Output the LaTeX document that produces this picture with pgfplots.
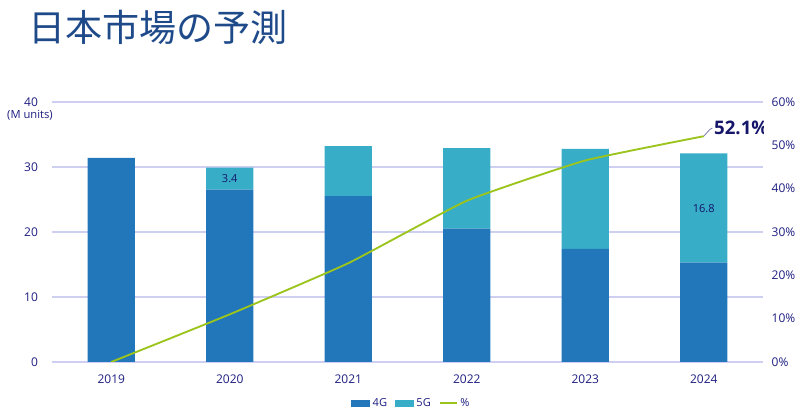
\documentclass[border=0pt]{standalone}
\usepackage{pgfplots}
\pgfplotsset{compat=1.18}
\usepackage{fontspec}
\setmainfont{Open Sans}
\newfontfamily\cjk{Noto Sans CJK JP}
\definecolor{c4g}{HTML}{2277BB}
\definecolor{c5g}{HTML}{38ADC7}
\definecolor{cline}{HTML}{9BC41C}
\definecolor{cgrid}{HTML}{CFCFF2}
\definecolor{ctext}{HTML}{1E1E82}
\definecolor{ctitle}{HTML}{1F4A8A}
\definecolor{cnavy}{HTML}{15166A}
\definecolor{clead}{HTML}{7A7AB0}
\begin{document}
\begin{tikzpicture}
\useasboundingbox (0pt,0pt) rectangle (600pt,309.75pt);
\node[anchor=west, text=ctitle, inner sep=0pt, font=\cjk\fontsize{27.8}{30}\selectfont] at (21pt,289pt) {日本市場の予測};
\node[text=ctext, font=\fontsize{8.4}{9}\selectfont, inner sep=0pt] at (22.5pt,223.5pt) {(M units)};
\begin{axis}[
  at={(39pt,38.25pt)}, anchor=south west,
  scale only axis, width=533.25pt, height=195pt,
  xmin=-0.5, xmax=5.5, ymin=0, ymax=40,
  ybar stacked, bar width=0.4,
  axis line style={draw=none},
  ymajorgrids, grid style={cgrid, line width=0.8pt},
  major tick length=0,
  xtick={0,1,2,3,4,5},
  xticklabels={2019,2020,2021,2022,2023,2024},
  ytick={0,10,20,30,40},
  /pgf/number format/assume math mode=true,
  tick label style={font=\fontsize{9}{10}\selectfont, text=ctext},
  yticklabel style={xshift=-7pt},
  xticklabel style={yshift=-6pt},
  legend style={at={(0.506,-0.158)}, anchor=center, draw=none, fill=none,
    legend columns=3, font=\fontsize{8.3}{10}\selectfont, text=ctext,
    /tikz/every even column/.append style={column sep=4pt},
    /tikz/every odd column/.append style={}},
]
\addplot+[fill=c4g, draw=none,
  legend image code/.code={\fill[c4g] (0pt,-2.6pt) rectangle (14pt,2.6pt);}]
  coordinates {(0,31.4) (1,26.5) (2,25.5) (3,20.5) (4,17.4) (5,15.3)};
\addplot+[fill=c5g, draw=none,
  legend image code/.code={\fill[c5g] (0pt,-2.6pt) rectangle (14pt,2.6pt);}]
  coordinates {(0,0) (1,3.4) (2,7.7) (3,12.4) (4,15.4) (5,16.8)};
\addlegendimage{legend image code/.code={\draw[cline, line width=1.4pt] (0pt,0pt) -- (12.75pt,0pt);}}
\legend{4G,5G,\%}
\end{axis}
\begin{axis}[
  at={(39pt,38.25pt)}, anchor=south west,
  scale only axis, width=533.25pt, height=195pt,
  xmin=-0.5, xmax=5.5, ymin=0, ymax=60,
  axis x line=none, axis y line*=right,
  axis line style={draw=none},
  major tick length=0,
  ytick={0,10,20,30,40,50,60},
  yticklabel={\pgfmathprintnumber{\tick}\%},
  /pgf/number format/assume math mode=true,
  tick label style={font=\fontsize{9}{10}\selectfont, text=ctext},
  yticklabel style={xshift=3pt},
]
\addplot[cline, line width=1.4pt, smooth, tension=0.25]
  coordinates {(0,0) (1,11) (2,22.8) (3,37.2) (4,46.5) (5,52.1)};
\node[text=cnavy, font=\fontsize{8.3}{9}\selectfont] at (axis cs:1,42.3) {3.4};
\node[text=cnavy, font=\fontsize{8.3}{9}\selectfont] at (axis cs:5,35.4) {16.8};
\draw[clead, line width=0.6pt] (axis cs:5,52.1) -- ++(4.5pt,5pt) -- ++(2pt,1.2pt)
  node[anchor=west, inner sep=1pt, text=cnavy, font=\bfseries\fontsize{14}{16}\selectfont] {52.1\%};
\end{axis}
\end{tikzpicture}
\end{document}
